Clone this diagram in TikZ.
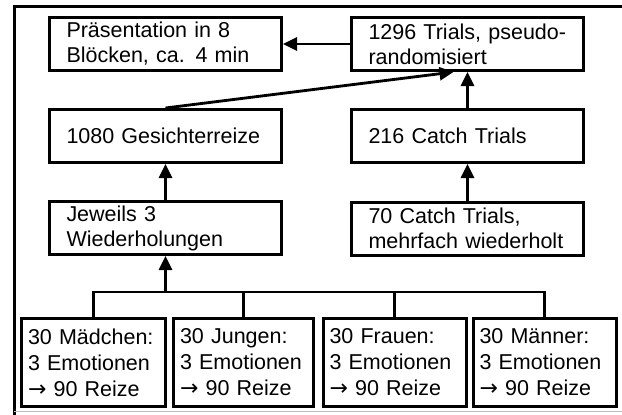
\documentclass[tikz,border=0pt]{standalone}
\usepackage{fontspec}
\setmainfont{Liberation Sans}
\newfontfamily\arrowfont{DejaVu Sans}
\usepackage{tikz}
\usetikzlibrary{
  arrows.meta,
  chains,
  positioning,
  scopes
}
\newcommand{\giveto}{{\arrowfont\fontsize{22}{26}\selectfont →}}

\begin{document}
\begin{tikzpicture}[
      x=1pt, y=-1pt,
      block/.style={
         rectangle,
         line width=3pt,
         draw=black,
         inner xsep=17pt,
         inner ysep=2pt,
         text width=198pt,
         minimum height=53pt,
         align=left,
         font=\fontsize{21.5}{25}\selectfont,
      },
      source/.style={
         block,
         inner xsep=6.5pt,
         minimum height=88pt,
         font=\fontsize{21.5}{26}\selectfont,
      },
      point/.style={coordinate},>={Triangle[length=14pt,width=13pt]},line width=2.8pt,
      tip/.style={->,shorten >=0pt},
      hv path/.style={to path={-| (\tikztotarget)}},
      vh path/.style={to path={|- (\tikztotarget)}},
    ]
    \useasboundingbox (0,0) rectangle (622,415);
    % frame
    \draw[line width=3pt] (622,6) -- (14,6) -- (14,415);
    \draw[black!25, line width=1pt] (14,411.5) -- (622,411.5);

    \node (praes) [block] at (165.5,44) {Präsentation in 8\\Blöcken, ca. 4 min};
    \node (trials) [block] at (467.5,44) {1296 Trials, pseudo-\\randomisiert};
    \node (gesicht) [block] at (165.5,136) {1080 Gesichterreize};
    \node (catch) [block] at (467.5,136) {216 Catch Trials};
    \node (wdh) [block] at (165.5,228) {Jeweils 3\\Wiederholungen};
    \node (catchbasis) [block] at (467.5,228.5) {70 Catch Trials,\\mehrfach wiederholt};
    \node (bus) [point] at (165.5,292) {};
    \node (maedchen) [source, text width=131pt] at (93.5,362.5) {30 Mädchen:\\3 Emotionen\\\giveto{} 90 Reize};
    \node (jungen) [source, text width=127pt] at (243.5,362.5) {30 Jungen:\\3 Emotionen\\\giveto{} 90 Reize};
    \node (frauen) [source, text width=130pt] at (394.5,362.5) {30 Frauen:\\3 Emotionen\\\giveto{} 90 Reize};
    \node (maenner) [source, text width=130pt] at (544.5,362.5) {30 Männer:\\3 Emotionen\\\giveto{} 90 Reize};

  { [start chain]
       \chainin (maedchen);
       \chainin (bus)    [join=by vh path];
  }
  { [start chain]
       \chainin (jungen);
       \chainin (bus)    [join=by vh path];
  }
  { [start chain]
       \chainin (frauen);
       \chainin (bus)    [join=by vh path];
  }
  { [start chain]
       \chainin (maenner);
       \chainin (bus)    [join=by vh path];
  }
  { [start chain]
       \chainin (bus);
       \chainin (wdh)    [join=by tip];
  }
  { [start chain]
       \chainin (wdh);
       \chainin (gesicht)    [join=by tip];
  }
  { [start chain]
       \chainin (catchbasis);
       \chainin (catch)    [join=by tip];
  }
  { [start chain]
       \chainin (catch);
       \chainin (trials)    [join=by tip];
  }
  { [start chain]
       \chainin (trials);
       \chainin (praes)    [join=by tip];
  }
    \draw[tip] (gesicht.north) -- ([xshift=-14pt]trials.south);
\end{tikzpicture}
\end{document}
